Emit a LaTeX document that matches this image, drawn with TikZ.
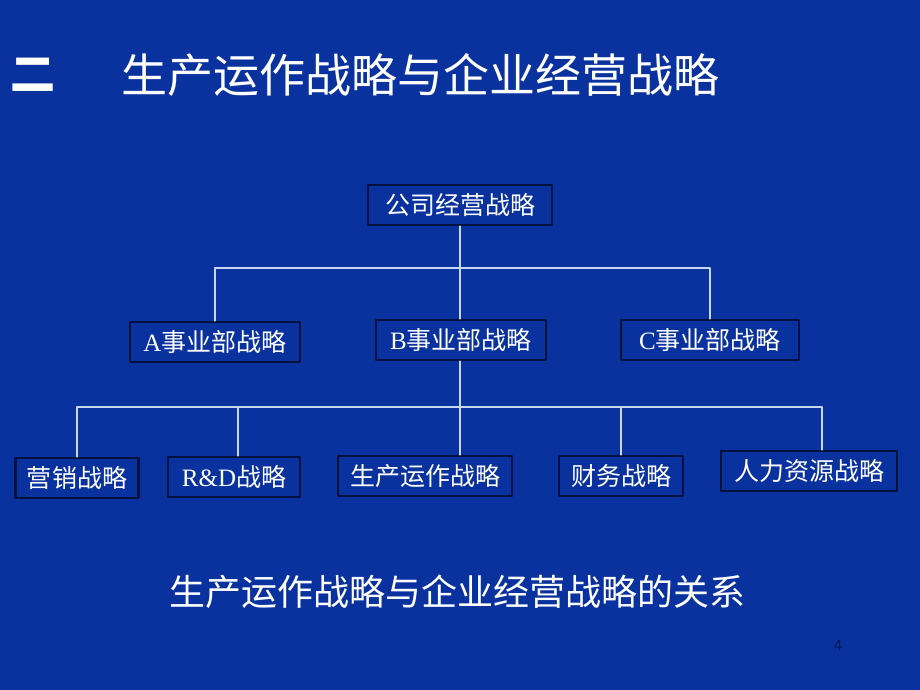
\documentclass[tikz,border=0pt]{standalone}
\usepackage{fontspec}
\setmainfont{Liberation Serif}
\newfontfamily\cjk{Noto Sans CJK SC}
\newfontfamily\arial{Liberation Sans}
\usepackage{tikz}
\usetikzlibrary{positioning}

\definecolor{slideblue}{RGB}{10,50,158}
\definecolor{boxedge}{RGB}{2,18,62}
\definecolor{wireline}{RGB}{200,215,240}
\definecolor{pagenum}{RGB}{5,25,90}

\tikzset{
  stratbox/.style={draw=boxedge,line width=2.2pt,fill=slideblue,text=white,
    minimum height=40pt,inner xsep=8pt,inner ysep=3pt,
    font=\fontsize{25}{28}\selectfont},
  wire/.style={draw=wireline,line width=1.2pt}
}

\begin{document}
\begin{tikzpicture}[x=1pt,y=-1pt,line cap=round,line join=round]
	\fill[slideblue] (0,0) rectangle (920,690);
	\useasboundingbox (0,0) rectangle (920,690);
	% title
	\node[text=white,font=\fontsize{45}{50}\selectfont\cjk\bfseries] (num) at (33,75) {二};
	\node[text=white,anchor=west,font=\fontsize{46}{50}\selectfont\cjk] (title) at (118,75) {生产运作战略与企业经营战略};
	% boxes
	\node[stratbox,minimum width=184pt] (corp) at (460,205) {\cjk 公司经营战略};
	\node[stratbox,minimum width=170pt] (bua) at (215,342) {A{\cjk 事业部战略}};
	\node[stratbox,minimum width=170pt] (bub) at (461,340) {B{\cjk 事业部战略}};
	\node[stratbox,minimum width=178pt] (buc) at (710,340) {C{\cjk 事业部战略}};
	\node[stratbox,minimum width=123pt] (mkt) at (77,478) {\cjk 营销战略};
	\node[stratbox,minimum width=132pt] (rnd) at (234,477) {R\&D{\cjk 战略}};
	\node[stratbox,minimum width=174pt] (ops) at (425,476) {\cjk 生产运作战略};
	\node[stratbox,minimum width=124pt] (fin) at (621,476) {\cjk 财务战略};
	\node[stratbox,minimum width=176pt] (hr) at (809,471) {\cjk 人力资源战略};
	% buses
	\coordinate (bustop) at (460,268);
	\coordinate (busbot) at (460,407);
	\coordinate (hrtap) at (822,407);
	\draw[wire] (corp.south -| bustop) -- (bustop);
	\draw[wire] (bua.north) |- (bustop) -| (buc.north);
	\draw[wire] (bustop) -- (bub.north -| bustop);
	\draw[wire] (bub.south -| busbot) -- (busbot);
	\draw[wire] (mkt.north) |- (busbot) -| (hrtap);
	\draw[wire] (hrtap) -- (hrtap |- hr.north);
	\draw[wire] (rnd.north -| 238,0) -- (busbot -| 238,0);
	\draw[wire] (busbot) -- (busbot |- ops.north);
	\draw[wire] (fin.north) -- (fin.north |- busbot);
	% caption
	\node[text=white,font=\fontsize{36}{40}\selectfont\cjk] (caption) at (457,592) {生产运作战略与企业经营战略的关系};
	\node[text=pagenum,font=\fontsize{15}{17}\selectfont\arial] (page) at (838,645) {4};
\end{tikzpicture}
\end{document}
